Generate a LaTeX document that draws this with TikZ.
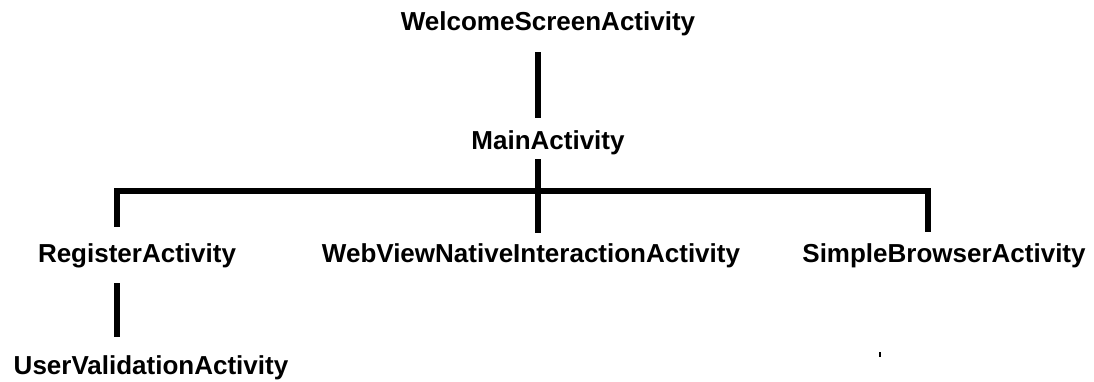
\documentclass[tikz,border=0pt]{standalone}
\usepackage{fontspec}
\setmainfont{Liberation Sans}
\begin{document}
\begin{tikzpicture}[x=1pt, y=-1pt,
  label/.style={font=\fontsize{26}{30}\selectfont\bfseries, inner sep=0pt,
    text height=18.5pt, text depth=5.5pt, anchor=base},
  link/.style={line width=6.5pt, line join=miter, line cap=butt}]
\useasboundingbox (0,0) rectangle (1094,381);

% activity names
\node[label] (welcome) at (548,30)  {WelcomeScreenActivity};
\node[label] (main)    at (548,149) {MainActivity};
\node[label] (register) at (137,262) {RegisterActivity};
\node[label] (webview)  at (531,262) {WebViewNativeInteractionActivity};
\node[label] (browser)  at (944,262) {SimpleBrowserActivity};
\node[label] (uval)     at (151,374) {UserValidationActivity};

% junction points of the tree
\coordinate (trunk) at (538,191);
\coordinate (lb) at (117,191);
\coordinate (rb) at (928,191);
\coordinate (tickA) at (880,352);
\coordinate (tickB) at (880,357);

% connectors
\draw[link, shorten <=16.5pt, shorten >=12.5pt] (welcome.south -| trunk) -- (main.north -| trunk);
\draw[link, shorten <=4.5pt, shorten >=10.5pt] (main.south -| trunk) -- (webview.north -| trunk);
\draw[link, shorten <=16.5pt, shorten >=11.5pt] (register.north -| lb) -- (lb) -- (rb) -- (browser.north -| rb);
\draw[link, shorten <=15.5pt, shorten >=18.5pt] (register.south -| lb) -- (uval.north -| lb);

% stray mark
\draw[line width=1.5pt] (tickA) -- (tickB);
\end{tikzpicture}
\end{document}
